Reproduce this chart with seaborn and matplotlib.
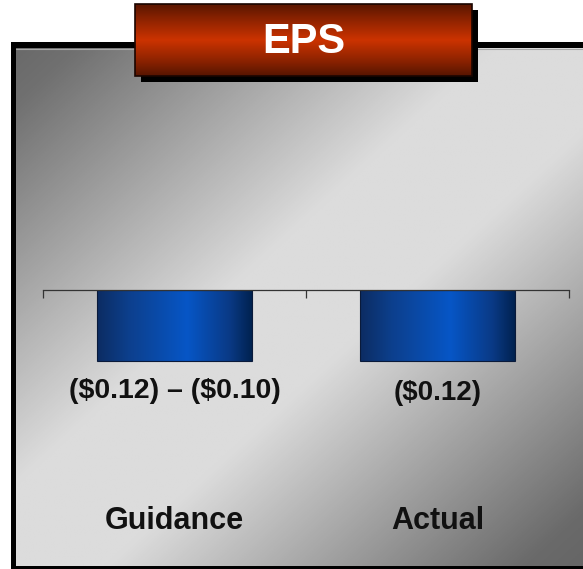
import numpy as np
import matplotlib
matplotlib.use("Agg")
import matplotlib.pyplot as plt
from matplotlib.colors import LinearSegmentedColormap
from matplotlib.patches import Rectangle
import seaborn as sns

# ---- data ----
categories = ["Guidance", "Actual"]
eps_values = [-0.12, -0.12]
value_labels = ["($0.12) \u2013 ($0.10)", "($0.12)"]
title_text = "EPS"

sns.set_theme(style="white")
FONT = ["Liberation Sans", "DejaVu Sans"]
plt.rcParams["font.family"] = FONT

W, H = 583, 569
fig = plt.figure(figsize=(W / 100, H / 100), dpi=100, facecolor="white")

# ---- background layer in pixel coordinates ----
bg = fig.add_axes([0, 0, 1, 1])
bg.set_xlim(0, W)
bg.set_ylim(H, 0)
bg.axis("off")

# outer black frame
bg.add_patch(Rectangle((11, 42), W + 10, 527, facecolor="black", edgecolor="none", zorder=1))

# diagonal grey gradient panel
x0, x1, y0, y1 = 16, W + 1, 48, 566
nx, ny = 300, 300
xx, yy = np.meshgrid(np.linspace(0, 1, nx), np.linspace(0, 1, ny))
t = (xx + yy) / 2
grey_cmap = LinearSegmentedColormap.from_list(
    "g", [(0, "#6a6a6a"), (0.05, "#707070"), (0.42, "#dcdcdc"),
          (0.58, "#dcdcdc"), (0.95, "#6a6a6a"), (1, "#666666")])
bg.imshow(t, cmap=grey_cmap, extent=(x0, x1, y1, y0), origin="upper",
          aspect="auto", zorder=2, interpolation="bilinear")
bg.plot([x0, x1], [y0 + 0.5, y0 + 0.5], color="#a8a8a8", lw=0.8, zorder=3)

# title box with shadow
tx0, tx1, ty0, ty1 = 135, 472, 4, 76
bg.add_patch(Rectangle((tx0 + 6, ty0 + 6), tx1 - tx0, ty1 - ty0,
                       facecolor="black", edgecolor="none", zorder=4))
red_cmap = LinearSegmentedColormap.from_list(
    "r", [(0, "#5a1600"), (0.2, "#8a2200"), (0.5, "#cc3300"),
          (0.8, "#8a2200"), (1, "#561400")])
grad_v = np.linspace(0, 1, 200).reshape(-1, 1)
bg.imshow(grad_v, cmap=red_cmap, extent=(tx0, tx1, ty1, ty0), origin="upper",
          aspect="auto", zorder=5, interpolation="bilinear")
bg.add_patch(Rectangle((tx0, ty0), tx1 - tx0, ty1 - ty0, facecolor="none",
                       edgecolor="#1a0500", lw=1.2, zorder=6))
bg.text((tx0 + tx1) / 2, (ty0 + ty1) / 2 + 2, title_text, color="white",
        fontsize=30, fontweight="bold", ha="center", va="center", zorder=7,
        family=FONT)
bg.set_xlim(0, W)
bg.set_ylim(H, 0)

# ---- main chart axes ----
ax_left, ax_right, ax_top, ax_bottom = 43, 569, 290, 490
ax = fig.add_axes([ax_left / W, 1 - ax_bottom / H,
                   (ax_right - ax_left) / W, (ax_bottom - ax_top) / H])
ax.set_facecolor("none")

sns.barplot(x=categories, y=eps_values, ax=ax, width=0.59, color="#0050c0",
            edgecolor="#0a1a3a", linewidth=0.8, saturation=1)

blue_cmap = LinearSegmentedColormap.from_list(
    "b", [(0, "#0c2c62"), (0.2, "#0d3f8c"), (0.58, "#0656c6"),
          (0.85, "#0a3a86"), (1, "#00214e")])
grad_h = np.linspace(0, 1, 256).reshape(1, -1)
for p in ax.patches:
    bx, by = p.get_x(), p.get_y()
    bw, bh = p.get_width(), p.get_height()
    im = ax.imshow(grad_h, cmap=blue_cmap, extent=(bx, bx + bw, by + bh, by),
                   origin="upper", aspect="auto", zorder=p.get_zorder() - 0.1,
                   interpolation="bilinear")
    im.set_clip_path(p)
    p.set_facecolor("none")
    p.set_zorder(p.get_zorder() + 0.1)

ymin = min(eps_values) * (ax_bottom - ax_top) / 71.0
ax.set_xlim(-0.5, len(categories) - 0.5)
ax.set_ylim(ymin, 0)

offsets = [12.0, 14.0]
sizes = [20.5, 20]
for i, (v, lab) in enumerate(zip(eps_values, value_labels)):
    ax.annotate(lab, xy=(i, v), xytext=(0, -offsets[i]), textcoords="offset points",
                ha="center", va="top", fontsize=sizes[i], fontweight="bold",
                color="#111111", family=FONT, parse_math=False)

ax.set_xlabel("")
ax.set_ylabel("")
ax.set_yticks([])
for s in ["left", "right", "bottom"]:
    ax.spines[s].set_visible(False)
ax.spines["top"].set_visible(True)
ax.spines["top"].set_color("#333333")
ax.spines["top"].set_linewidth(0.9)

ax.set_xticks(range(len(categories)))
ax.set_xticklabels(categories)
ax.set_xticks(np.arange(-0.5, len(categories)), minor=True)
ax.tick_params(axis="x", which="major", bottom=True, top=False, length=0,
               pad=11.5, labelsize=22, labelcolor="#111111")
ax.tick_params(axis="x", which="minor", bottom=False, top=True, direction="in",
               length=6, width=0.9, color="#333333")
for lbl in ax.get_xticklabels():
    lbl.set_fontweight("bold")
    lbl.set_family(FONT)

fig.savefig("out.png", dpi=100, facecolor="white")
